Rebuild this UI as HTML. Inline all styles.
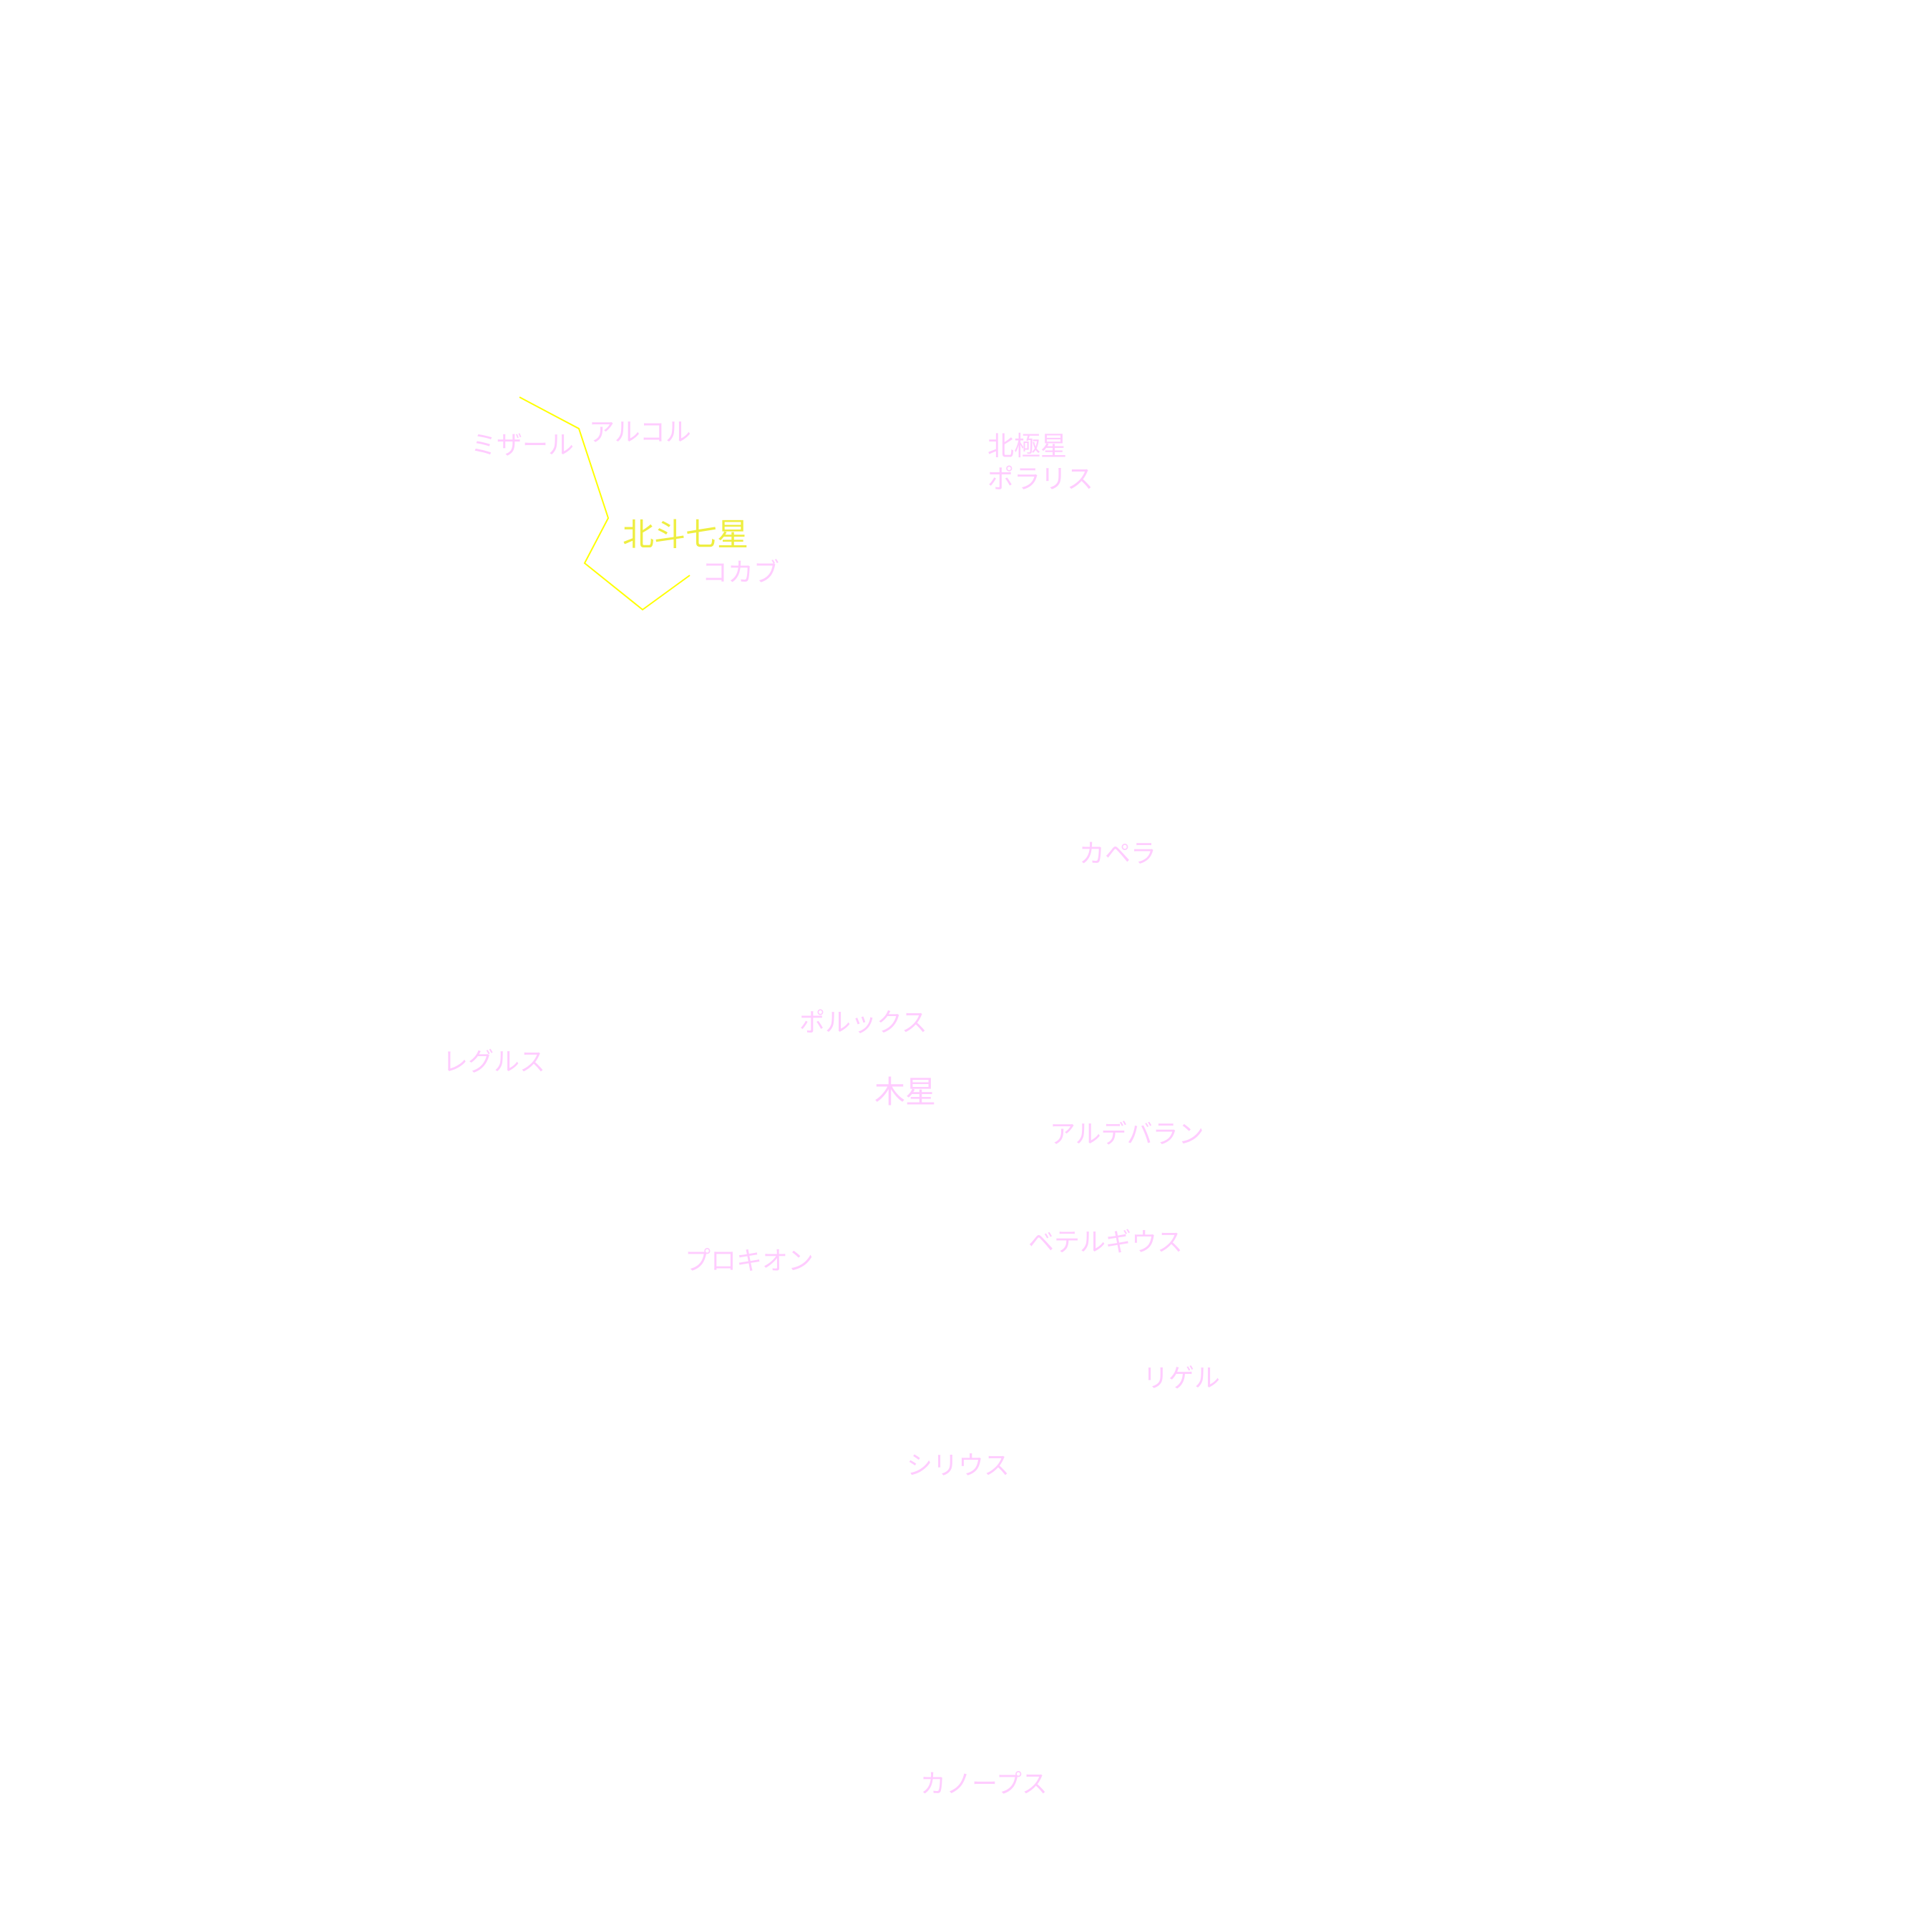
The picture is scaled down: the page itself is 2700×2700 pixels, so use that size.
<!DOCTYPE html>
<html><head><meta charset="utf-8">
<style>
html,body{margin:0;padding:0;background:#fff;}
#c{position:relative;width:2700px;height:2700px;overflow:hidden;background:#fff;}
.t{position:absolute;white-space:nowrap;line-height:1;font-family:"Liberation Sans","Noto Sans CJK JP",sans-serif;color:#ffccff;font-size:36px;}
.y{color:#eeee40;font-size:44px;}
</style></head><body>
<div id="c">
<svg width="2700" height="2700" style="position:absolute;left:0;top:0">
<polyline points="726,555 809,599 850,724 817,787 898,852 964,804" fill="none" stroke="#ffff00" stroke-width="2"/>
</svg>
<div class="t" style="left:823px;top:586px">アルコル</div>
<div class="t" style="left:658px;top:604px">ミザール</div>
<div class="t y" style="left:870px;top:726px">北斗七星</div>
<div class="t" style="left:981px;top:782px">コカブ</div>
<div class="t" style="left:1380px;top:601px;font-size:37px;line-height:46px">北極星<br>ポラリス</div>
<div class="t" style="left:1508px;top:1175px">カペラ</div>
<div class="t" style="left:1117px;top:1411px">ポルックス</div>
<div class="t" style="left:618px;top:1466px">レグルス</div>
<div class="t" style="left:1222px;top:1506px;font-size:43px">木星</div>
<div class="t" style="left:1467px;top:1567px">アルデバラン</div>
<div class="t" style="left:1437px;top:1718px">ベテルギウス</div>
<div class="t" style="left:957px;top:1744px">プロキオン</div>
<div class="t" style="left:1597px;top:1908px">リゲル</div>
<div class="t" style="left:1267px;top:2030px">シリウス</div>
<div class="t" style="left:1286px;top:2475px">カノープス</div>
</div>
</body></html>
